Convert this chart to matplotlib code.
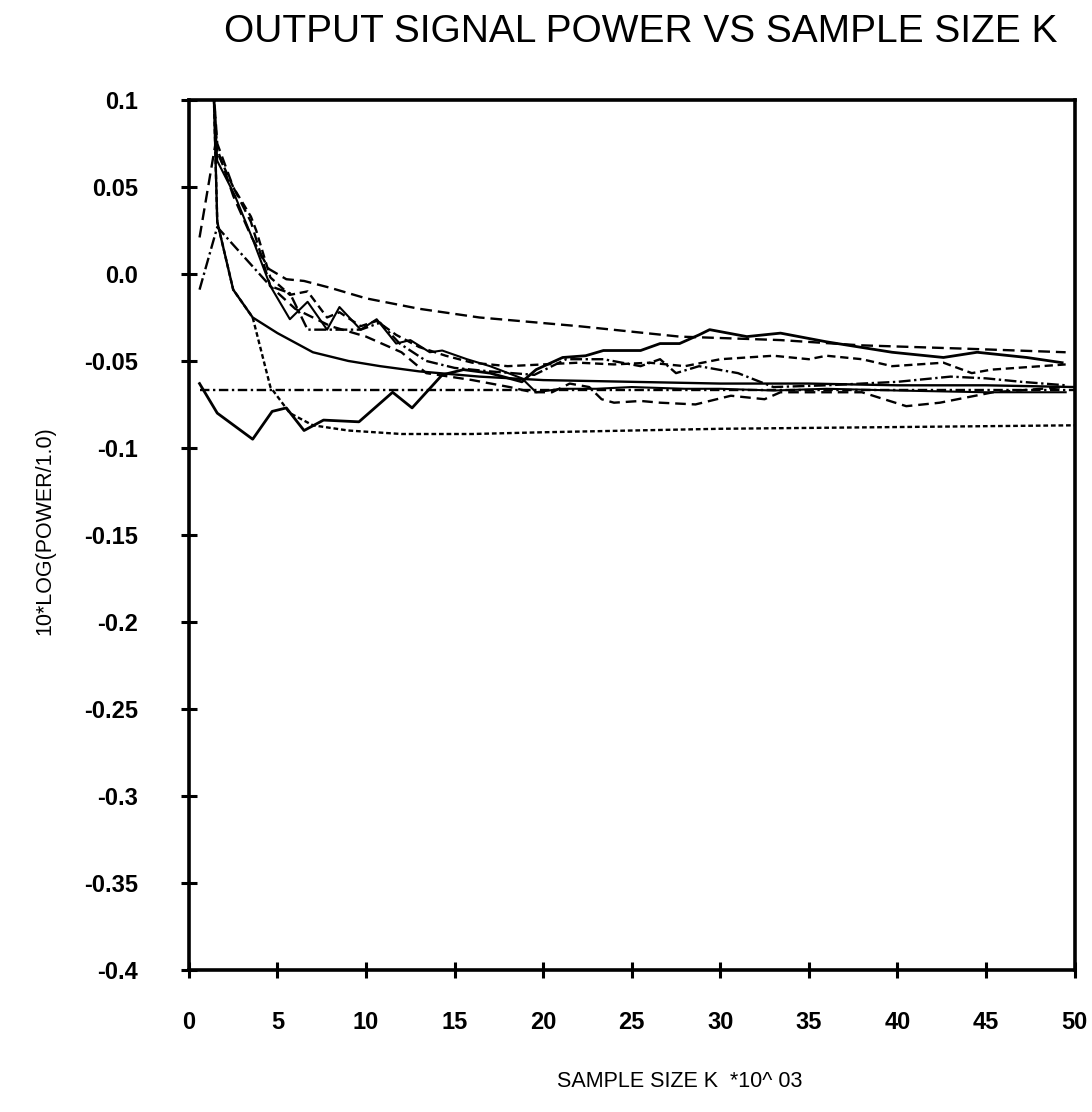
import matplotlib
matplotlib.use('Agg')
import matplotlib.pyplot as plt

plt.rcParams['font.family'] = ['Liberation Sans', 'DejaVu Sans']

# valores (K em milhares, potencia em dB)
x_s1 = [0.6, 1.6, 3.6, 4.7, 5.5, 6.5, 7.6, 9.6, 11.5, 12.6, 14.3, 15.5, 17.0, 18.8, 19.6,
        21.1, 22.4, 23.4, 25.5, 26.6, 27.7, 28.8, 29.4, 31.5, 33.4, 36.0, 39.7, 42.6, 44.5,
        47.3, 49.3]
y_s1 = [-0.063, -0.080, -0.095, -0.079, -0.077, -0.090, -0.084, -0.085, -0.068, -0.077,
        -0.058, -0.055, -0.057, -0.062, -0.055, -0.048, -0.047, -0.044, -0.044, -0.040,
        -0.040, -0.035, -0.032, -0.036, -0.034, -0.039, -0.045, -0.048, -0.045, -0.048,
        -0.051]

x_s2 = [1.4, 1.6, 2.5, 3.6, 5.0, 7.0, 9.0, 10.8, 13.0, 16.4, 20, 25, 30, 35, 40, 45, 50]
y_s2 = [0.105, 0.030, -0.009, -0.025, -0.034, -0.045, -0.050, -0.053, -0.056, -0.059,
        -0.061, -0.062, -0.063, -0.063, -0.064, -0.064, -0.065]

x_pont = [1.4, 1.6, 2.5, 3.6, 4.6, 5.7, 7.0, 9.0, 12, 16, 20, 30, 40, 50]
y_pont = [0.105, 0.030, -0.009, -0.025, -0.065, -0.080, -0.087, -0.090, -0.092, -0.092,
          -0.091, -0.089, -0.088, -0.087]

x_longo = [0.6, 1.5, 2.5, 3.5, 4.5, 5.5, 6.5, 8, 10, 13, 16.4, 22, 27.7, 33.4, 37.9, 44, 49.5]
y_longo = [0.021, 0.075, 0.045, 0.022, 0.003, -0.003, -0.004, -0.008, -0.014, -0.020,
           -0.025, -0.030, -0.036, -0.038, -0.041, -0.043, -0.045]

x_horiz = [0.6, 50]
y_horiz = [-0.0667, -0.0667]

x_j1 = [1.4, 1.6, 2.6, 3.6, 4.6, 5.7, 6.7, 7.8, 8.5, 9.7, 10.6, 11.7, 12.5, 13.6, 14.3,
        15.7, 17.0, 18.8, 19.6, 21, 23, 25, 28, 30, 33, 36, 40, 45, 49.5]
y_j1 = [0.105, 0.065, 0.045, 0.020, -0.007, -0.026, -0.016, -0.032, -0.019, -0.032, -0.026,
        -0.040, -0.038, -0.045, -0.044, -0.049, -0.053, -0.060, -0.068, -0.066, -0.066,
        -0.065, -0.066, -0.066, -0.067, -0.066, -0.067, -0.068, -0.068]

x_dd = [0.6, 1.6, 4.6, 5.7, 6.7, 7.8, 9.7, 10.8, 11.9, 13.4, 15, 17, 19.5, 21.3, 23.4,
        25.5, 26.6, 27.5, 28.8, 31, 33, 36, 40, 43, 45, 47, 49.5]
y_dd = [-0.009, 0.027, -0.007, -0.011, -0.032, -0.032, -0.032, -0.028, -0.040, -0.050,
        -0.054, -0.056, -0.058, -0.049, -0.049, -0.053, -0.049, -0.057, -0.053, -0.057,
        -0.065, -0.064, -0.062, -0.059, -0.060, -0.062, -0.064]

x_d2 = [1.4, 1.6, 2.5, 3.5, 3.8, 4.6, 5.7, 6.7, 7.8, 8.5, 9.7, 10.6, 11.7, 13, 14.5, 16,
        18, 20, 22, 24, 26, 28, 30, 31.5, 33, 35, 36, 38, 39.7, 42.6, 44.2, 45.3, 49.5]
y_d2 = [0.105, 0.070, 0.050, 0.033, 0.025, -0.002, -0.012, -0.010, -0.025, -0.022, -0.030,
        -0.027, -0.035, -0.042, -0.047, -0.051, -0.053, -0.052, -0.051, -0.052, -0.051,
        -0.053, -0.049, -0.048, -0.047, -0.049, -0.047, -0.049, -0.053, -0.051, -0.057,
        -0.055, -0.052]

x_l7 = [1.4, 1.6, 2.5, 3.5, 4.6, 6, 8, 10, 12, 13.4, 16, 18.1, 19.4, 20.5, 21.5, 22.6,
        23.3, 24, 25.5, 26.6, 28.6, 30.6, 32.5, 33.4, 38, 40.5, 42.4, 45.4, 49.5]
y_l7 = [0.105, 0.075, 0.050, 0.030, -0.007, -0.020, -0.030, -0.036, -0.045, -0.057, -0.061,
        -0.065, -0.068, -0.068, -0.063, -0.065, -0.072, -0.074, -0.073, -0.074, -0.075,
        -0.070, -0.072, -0.068, -0.068, -0.076, -0.074, -0.068, -0.065]

xticks = [0, 5, 10, 15, 20, 25, 30, 35, 40, 45, 50]
yticks = [0.1, 0.05, 0.0, -0.05, -0.1, -0.15, -0.2, -0.25, -0.3, -0.35, -0.4]
ylabels = ['0.1', '0.05', '0.0', '-0.05', '-0.1', '-0.15', '-0.2', '-0.25', '-0.3',
           '-0.35', '-0.4']

fig = plt.figure(figsize=(10.92, 11.12), dpi=100)
ax = fig.add_axes([0.173, 0.128, 0.811, 0.782])

lw = 1.7
ax.plot(x_s1, y_s1, color='k', lw=2.0, linestyle='-')
ax.plot(x_s2, y_s2, color='k', lw=lw, linestyle='-')
ax.plot(x_pont, y_pont, color='k', lw=lw, linestyle=(0, (2, 1.2)))
ax.plot(x_longo, y_longo, color='k', lw=lw, linestyle=(0, (5, 2.5)))
ax.plot(x_horiz, y_horiz, color='k', lw=lw, linestyle=(0, (4, 1.5, 1, 1.5)))
ax.plot(x_j1, y_j1, color='k', lw=1.5, linestyle='-')
ax.plot(x_dd, y_dd, color='k', lw=lw, linestyle=(0, (5, 1.5, 1, 1.5)))
ax.plot(x_d2, y_d2, color='k', lw=lw, linestyle=(0, (3.5, 2)))
ax.plot(x_l7, y_l7, color='k', lw=lw, linestyle=(0, (4.5, 2.5)))

ax.set_xlim(0, 50)
ax.set_ylim(-0.4, 0.1)
ax.set_xticks(xticks)
ax.set_xticklabels([str(v) for v in xticks])
ax.set_yticks(yticks)
ax.set_yticklabels(ylabels)

for s in ax.spines.values():
    s.set_linewidth(2.6)

ax.tick_params(axis='both', direction='inout', length=11, width=2.2, labelsize=17)
ax.tick_params(axis='y', pad=31)
ax.tick_params(axis='x', pad=24)
for lab in ax.get_xticklabels() + ax.get_yticklabels():
    lab.set_fontweight('bold')

fig.text(0.587, 0.971, 'OUTPUT SIGNAL POWER VS SAMPLE SIZE K', ha='center', va='center',
         fontsize=28)
fig.text(0.622, 0.027, 'SAMPLE SIZE K  *10^ 03', ha='center', va='center', fontsize=15.5)
fig.text(0.041, 0.523, '10*LOG(POWER/1.0)', ha='center', va='center', rotation=90,
         fontsize=15.5)

plt.savefig('out.png', dpi=100)
